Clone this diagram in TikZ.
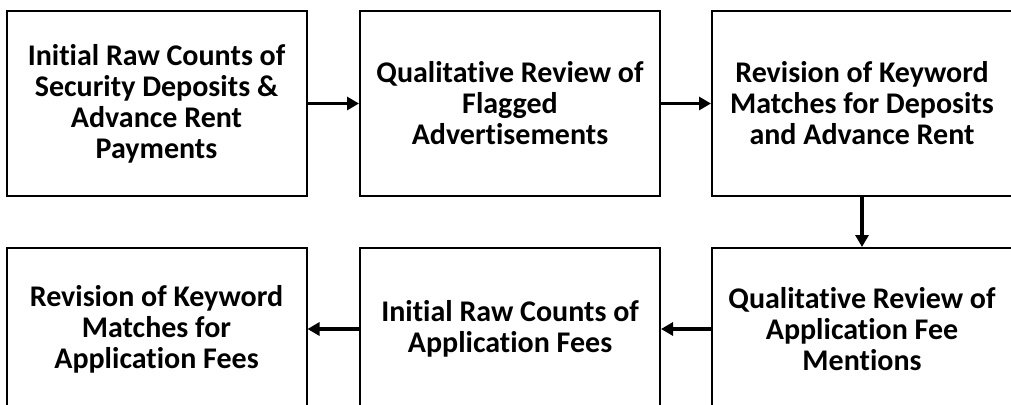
\documentclass[tikz,border=0pt]{standalone}
\usepackage{fontspec}
\setmainfont{Carlito}[Ligatures={NoCommon}]
\usetikzlibrary{arrows.meta}
\begin{document}
\begin{tikzpicture}[x=1pt,y=-1pt,
  stepbox/.style={draw, line width=2pt, rectangle, minimum width=300pt, align=center,
    inner sep=0pt, font=\fontsize{30}{31}\selectfont\bfseries},
  toprow/.style={stepbox, minimum height=185pt},
  botrow/.style={stepbox, minimum height=162pt},
  flow/.style={line width=3.5pt, -{Triangle[length=12pt,width=13pt]}}]
\useasboundingbox (0,0) rectangle (1011,404);
\clip (0,0) rectangle (1011,404);
\node[toprow] (a) at (156.5,103.5) {Initial Raw Counts of\\Security Deposits \&\\Advance Rent\\Payments};
\node[toprow] (b) at (510,103.5) {Qualitative Review of\\Flagged\\Advertisements};
\node[toprow] (c) at (862,103.5) {Revision of Keyword\\Matches for Deposits\\and Advance Rent};
\node[botrow] (d) at (862,329) {Qualitative Review of\\Application Fee\\Mentions};
\node[botrow] (e) at (510,329) {Initial Raw Counts of\\Application Fees};
\node[botrow] (f) at (156.5,329) {Revision of Keyword\\Matches for\\Application Fees};
\draw[flow] (a) -- (b);
\draw[flow] (b) -- (c);
\draw[flow] (c) -- (d);
\draw[flow] (d) -- (e);
\draw[flow] (e) -- (f);
\end{tikzpicture}
\end{document}
